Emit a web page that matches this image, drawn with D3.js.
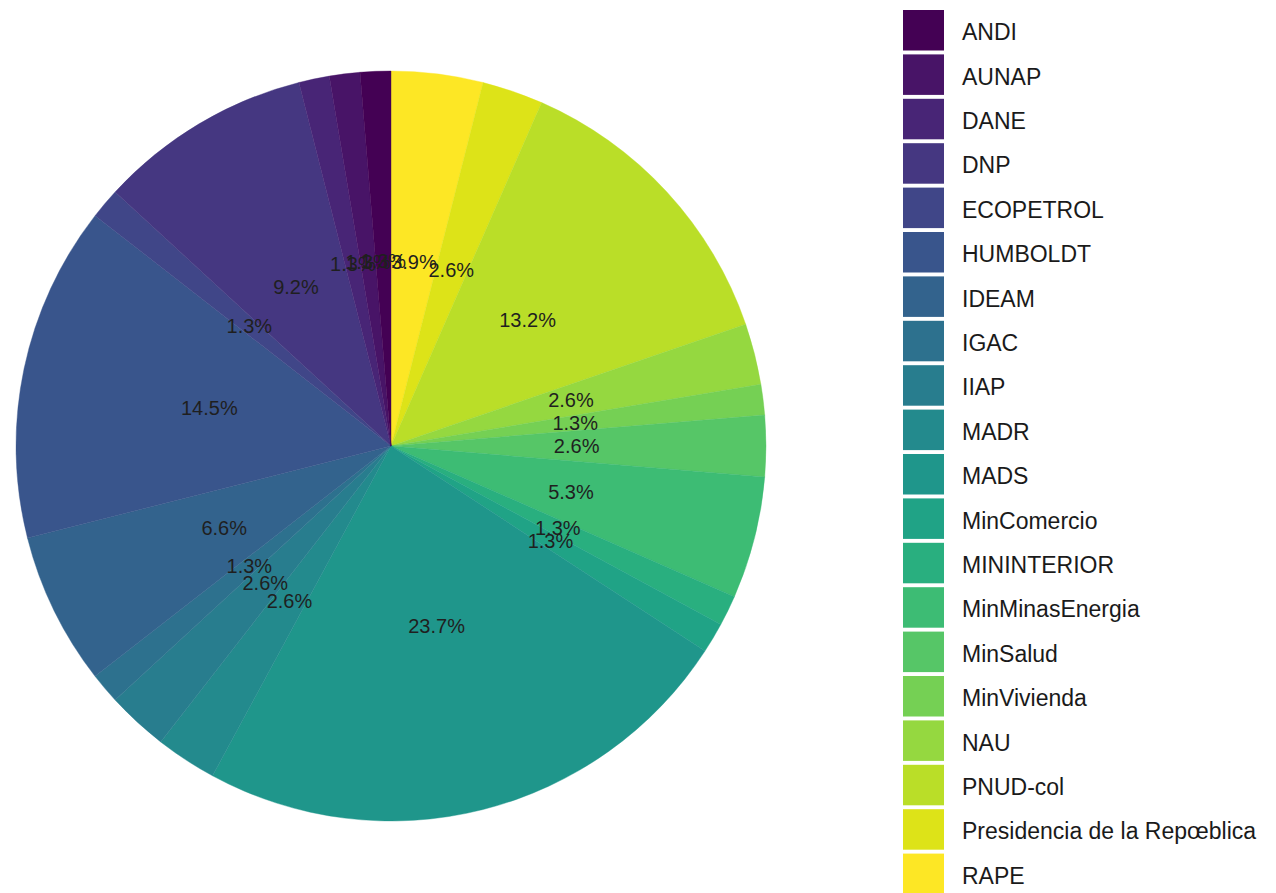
<!DOCTYPE html>
<html>
<head>
<meta charset="utf-8">
<script src="https://cdn.jsdelivr.net/npm/d3@7"></script>
<style>
  html, body { margin: 0; padding: 0; background: #fff; }
  svg { display: block; font-family: "Liberation Sans", Arial, sans-serif; }
</style>
</head>
<body>
<svg id="chart" width="1276" height="893"></svg>
<script>
// Categories (legend order = factor levels)
const categories = ["ANDI", "AUNAP", "DANE", "DNP", "ECOPETROL", "HUMBOLDT", "IDEAM", "IGAC", "IIAP", "MADR",
  "MADS", "MinComercio", "MININTERIOR", "MinMinasEnergia", "MinSalud", "MinVivienda", "NAU", "PNUD-col",
  "Presidencia de la Repœblica", "RAPE"];
// Counts (total 76) -> percentages shown as labels
const counts = [1, 1, 1, 7, 1, 11, 5, 1, 2, 2,
  18, 1, 1, 4, 2, 1, 2, 10,
  2, 3];

const svg = d3.select("#chart");
const cx = 391, cy = 446, R = 375;

const total = d3.sum(counts);
const color = d3.scaleOrdinal()
  .domain(categories)
  .range(categories.map((d, i) => d3.interpolateViridis(i / (categories.length - 1))));

// Clockwise from 12 o'clock: last level first (RAPE ... ANDI)
const data = categories.map((c, i) => ({ cat: c, value: counts[i] })).reverse();

const pie = d3.pie().sort(null).value(d => d.value);
const arcs = pie(data);
const arc = d3.arc().innerRadius(0).outerRadius(R);
const labelArc = d3.arc().innerRadius(R * 0.495).outerRadius(R * 0.495);

const g = svg.append("g").attr("transform", `translate(${cx},${cy})`);

g.selectAll("path.slice")
  .data(arcs)
  .join("path")
  .attr("class", "slice")
  .attr("d", arc)
  .attr("fill", d => color(d.data.cat))
  .attr("stroke", d => color(d.data.cat))
  .attr("stroke-width", 0.4);

const fmt = v => (Math.round(v / total * 1000) / 10).toFixed(1) + "%";

g.selectAll("text.lbl")
  .data(arcs)
  .join("text")
  .attr("class", "lbl")
  .attr("transform", d => `translate(${labelArc.centroid(d)})`)
  .attr("text-anchor", "middle")
  .attr("dominant-baseline", "central")
  .attr("font-size", 20)
  .attr("fill", "#1f1f1f")
  .text(d => fmt(d.data.value));

// Legend
const legendX = 903, legendY0 = 10, pitch = 44.4, keyW = 41, keyH = 40.5;
const lg = svg.append("g");
const items = lg.selectAll("g.item")
  .data(categories)
  .join("g")
  .attr("class", "item")
  .attr("transform", (d, i) => `translate(${legendX},${legendY0 + i * pitch})`);

items.append("rect")
  .attr("width", keyW)
  .attr("height", keyH)
  .attr("fill", d => color(d));

items.append("text")
  .attr("x", 59)
  .attr("y", keyH / 2 + 2)
  .attr("dominant-baseline", "central")
  .attr("font-size", 23)
  .attr("fill", "#1a1a1a")
  .text(d => d);
</script>
</body>
</html>
